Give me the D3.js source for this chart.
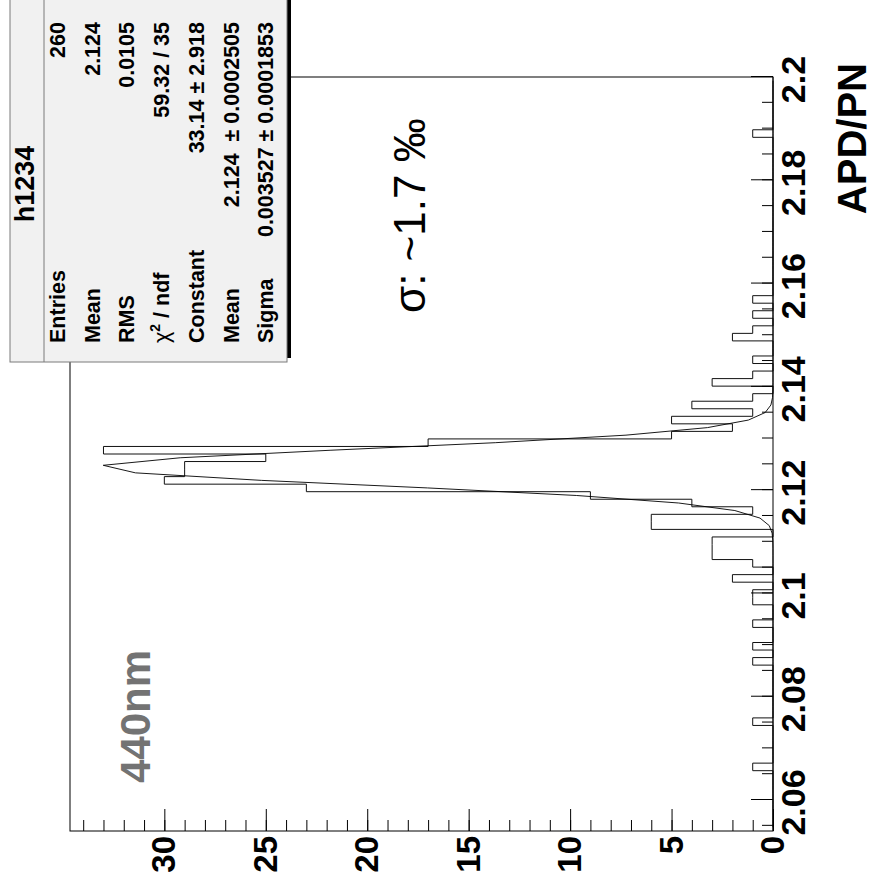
<!DOCTYPE html>
<html>
<head>
<meta charset="utf-8">
<script src="https://cdn.jsdelivr.net/npm/d3@7"></script>
<style>
  body { margin: 0; background: #fff; }
  svg { display: block; font-family: 'Liberation Sans', Arial, Helvetica, sans-serif; }
</style>
</head>
<body>
<svg width="875" height="888"></svg>
<script>
// histogram h1234: 100 bins between xMin and xMax (APD/PN)
const xMin = 2.054;
const xMax = 2.2;
const counts = [
  0, 0, 0, 0, 0, 0, 0, 0, 1, 0,
  0, 0, 0, 0, 1, 0, 0, 0, 0, 0,
  0, 0, 1, 0, 1, 0, 0, 1, 0, 0,
  1, 1, 0, 2, 0, 1, 3, 3, 3, 0,
  6, 6, 1, 4, 9, 23, 30, 29, 29, 25,
  33, 17, 5, 2, 5, 1, 4, 1, 0, 3,
  1, 0, 1, 0, 0, 2, 1, 0, 1, 0,
  1, 0, 0, 0, 0, 0, 0, 0, 0, 0,
  0, 0, 0, 0, 0, 0, 0, 0, 0, 0,
  0, 0, 1, 0, 0, 0, 0, 0, 0, 0
];

// gaus fit: constant, mean, sigma (mean)
const fitParams = [33.14, 2.1245, 0.003527];

const xTicks = [2.06, 2.08, 2.1, 2.12, 2.14, 2.16, 2.18, 2.2];
const xTickLabels = ['2.06', '2.08', '2.1', '2.12', '2.14', '2.16', '2.18', '2.2'];
const yTicks = [0, 5, 10, 15, 20, 25, 30];
const yTickLabels = ['0', '5', '10', '15', '20', '25', '30'];

const statLabels = ['Entries', 'Mean', 'RMS', 'chi2', 'Constant', 'Mean', 'Sigma'];
const statValues = ['260', '2.124', '0.0105', '59.32 / 35', '33.14 \u00b1 2.918', '2.124  \u00b1 0.0002505', '0.003527 \u00b1 0.0001853'];

// the whole canvas is drawn upright, then turned a quarter left
const W = 888;
const frame = { left: 57, right: 811, top: 70, bottom: 773 };

const svg = d3.select('svg');
const g = svg.append('g').attr('transform', `translate(0,${ W }) rotate(-90)`);

const binWidth = (xMax - xMin) / counts.length;
const yMax = d3.max(counts) * 1.05;

const x = d3.scaleLinear().domain([xMin, xMax]).range([frame.left, frame.right]);
const y = d3.scaleLinear().domain([0, yMax]).range([frame.bottom, frame.top]);

// frame
g.append('rect')
  .attr('x', frame.left)
  .attr('y', frame.top)
  .attr('width', frame.right - frame.left)
  .attr('height', frame.bottom - frame.top)
  .attr('fill', 'none')
  .attr('stroke', '#000')
  .attr('stroke-width', 1);

// histogram outline
const histPoints = [[xMin, 0]];
counts.forEach((c, i) => {
  histPoints.push([xMin + i * binWidth, c]);
  histPoints.push([xMin + (i + 1) * binWidth, c]);
});
histPoints.push([xMax, 0]);

g.append('path')
  .datum(histPoints)
  .attr('fill', 'none')
  .attr('stroke', '#111')
  .attr('stroke-width', 1)
  .attr('d', d3.line().x(d => x(d[0])).y(d => y(d[1])));

// fit curve, sampled at bin centres
const [fitC, fitMean, fitSigma] = fitParams;
const fitPoints = counts.map((c, i) => {
  const xc = xMin + (i + 0.5) * binWidth;
  return [xc, fitC * Math.exp(-0.5 * Math.pow((xc - fitMean) / fitSigma, 2))];
});

g.append('path')
  .datum(fitPoints)
  .attr('fill', 'none')
  .attr('stroke', '#000')
  .attr('stroke-width', 0.9)
  .attr('d', d3.line().x(d => x(d[0])).y(d => y(d[1])));

// axes
const styleAxis = (sel, size) => {
  sel.select('.domain').remove();
  sel.attr('font-family', null)
    .attr('font-size', size)
    .attr('font-weight', 'bold');
  sel.selectAll('line').attr('stroke', '#000');
  sel.selectAll('text').attr('fill', '#000');
};

g.append('g')
  .attr('transform', `translate(0,${ frame.bottom })`)
  .call(d3.axisBottom(x).tickValues(x.ticks(30)).tickSize(-11).tickFormat(''))
  .call(s => styleAxis(s, 34));

g.append('g')
  .attr('transform', `translate(0,${ frame.bottom })`)
  .call(d3.axisBottom(x).tickValues(xTicks).tickSize(-22).tickPadding(8)
    .tickFormat((d, i) => xTickLabels[i]))
  .call(s => styleAxis(s, 34))
  .call(s => s.selectAll('text').attr('dx', -3));

g.append('g')
  .attr('transform', `translate(${ frame.left },0)`)
  .call(d3.axisLeft(y).tickValues(y.ticks(35)).tickSize(-11).tickFormat(''))
  .call(s => styleAxis(s, 33));

g.append('g')
  .attr('transform', `translate(${ frame.left },0)`)
  .call(d3.axisLeft(y).tickValues(yTicks).tickSize(-22).tickPadding(5)
    .tickFormat((d, i) => yTickLabels[i]))
  .call(s => styleAxis(s, 33));

// axis title
g.append('text')
  .attr('x', 825)
  .attr('y', 866)
  .attr('text-anchor', 'end')
  .attr('font-size', 40)
  .attr('font-weight', 'bold')
  .text('APD/PN');

// annotations
g.append('text')
  .attr('x', 105)
  .attr('y', 150)
  .attr('font-size', 42)
  .attr('font-weight', 'bold')
  .attr('fill', '#737373')
  .text('440nm');

g.append('text')
  .attr('x', 575)
  .attr('y', 425)
  .attr('font-size', 44)
  .text('\u03c3: ~1.7 \u2030');

// stats box
const box = { x: 526, y: 10, w: 366, h: 277 };

g.append('rect')
  .attr('x', box.x + 4)
  .attr('y', box.y + 4)
  .attr('width', box.w)
  .attr('height', box.h)
  .attr('fill', '#000');

g.append('rect')
  .attr('x', box.x)
  .attr('y', box.y)
  .attr('width', box.w)
  .attr('height', box.h)
  .attr('fill', '#f1f1f1')
  .attr('stroke', '#7a7a7a')
  .attr('stroke-width', 1);

g.append('line')
  .attr('x1', box.x)
  .attr('x2', box.x + box.w)
  .attr('y1', 44)
  .attr('y2', 44)
  .attr('stroke', '#7a7a7a');

g.append('text')
  .attr('x', 704)
  .attr('y', 34)
  .attr('text-anchor', 'middle')
  .attr('font-size', 27)
  .attr('font-weight', 'bold')
  .text('h1234');

const rowY = i => 65 + i * 34.7;

statLabels.forEach((label, i) => {
  const t = g.append('text')
    .attr('x', 545)
    .attr('y', rowY(i))
    .attr('font-size', 21.5)
    .attr('font-weight', 'bold');

  if (label === 'chi2') {
    t.append('tspan').attr('font-weight', 'normal').text('\u03c7');
    t.append('tspan').attr('font-size', 14).attr('dy', -9).text('2');
    t.append('tspan').attr('dy', 9).text(' / ndf');
  } else {
    t.text(label);
  }
});

statValues.forEach((value, i) => {
  g.append('text')
    .attr('x', 866)
    .attr('y', rowY(i))
    .attr('text-anchor', 'end')
    .attr('font-size', 21.5)
    .attr('font-weight', 'bold')
    .style('white-space', 'pre')
    .text(value);
});
</script>
</body>
</html>
